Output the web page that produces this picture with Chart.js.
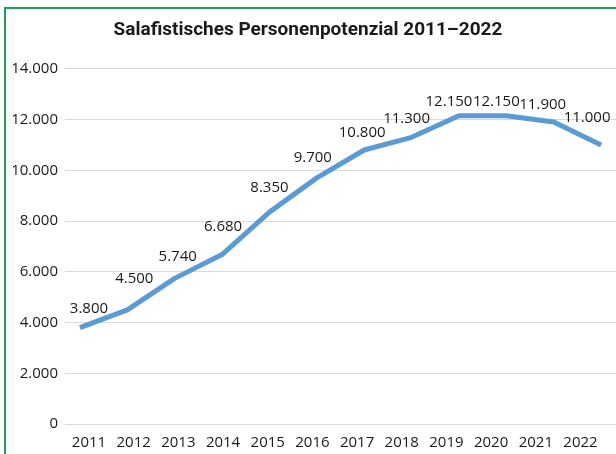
<!DOCTYPE html>
<html>
<head>
<meta charset="utf-8">
<script src="https://cdn.jsdelivr.net/npm/chart.js@4.4.1/dist/chart.umd.min.js"></script>
<style>
    body { margin: 0; background: #fff; }
    #wrap { position: relative; width: 616px; height: 454px; }
    #frame {
        position: absolute; left: 4px; top: 7px; right: -4px; bottom: -4px;
        border-left: 2px solid #17a159; border-top: 2px solid #17a159;
        pointer-events: none;
    }
</style>
</head>
<body>
<div id="wrap">
    <canvas id="chart" width="616" height="454"></canvas>
    <div id="frame"></div>
</div>
<script>
// Salafistisches Personenpotenzial 2011-2022

const YEARS = ['2011', '2012', '2013', '2014', '2015', '2016', '2017', '2018', '2019', '2020', '2021', '2022'];
const PERSONS = [3800, 4500, 5740, 6680, 8350, 9700, 10800, 11300, 12150, 12150, 11900, 11000];
const Y_TICKS = [0, 2000, 4000, 6000, 8000, 10000, 12000, 14000];

// label nudges (dx, dy) relative to each point, as placed in the original
const LABEL_DX = [9, 7, 3, 1, 0, -4, -2, -5, -10, -10, -11, -14];
const LABEL_DY = [-19, -31, -22, -28, -24, -20, -17, -19, -14, -14, -17, -27];

const FONT = '"Open Sans", sans-serif';

function formatDe(v) {
    return String(v).replace(/\B(?=(\d{3})+(?!\d))/g, '.');
}

const valueLabels = {
    id: 'valueLabels',
    afterDatasetsDraw(chart) {
        const ctx = chart.ctx;
        const meta = chart.getDatasetMeta(0);
        ctx.save();
        ctx.font = '15px ' + FONT;
        ctx.fillStyle = '#1a1a1a';
        ctx.textAlign = 'center';
        ctx.textBaseline = 'middle';
        meta.data.forEach((pt, i) => {
            ctx.fillText(formatDe(PERSONS[i]), pt.x + LABEL_DX[i], pt.y + LABEL_DY[i]);
        });
        ctx.restore();
    }
};

const first = Number(YEARS[0]);
const last = Number(YEARS[YEARS.length - 1]);

new Chart(document.getElementById('chart'), {
    type: 'line',
    data: {
        datasets: [{
            data: YEARS.map((y, i) => ({ x: Number(y), y: PERSONS[i] })),
            borderColor: '#5b9bd5',
            borderWidth: 5,
            borderJoinStyle: 'round',
            borderCapStyle: 'butt',
            pointRadius: 0,
            tension: 0,
            fill: false,
            clip: false
        }]
    },
    options: {
        responsive: false,
        animation: false,
        layout: { padding: { left: 0, right: 0, top: 0, bottom: 0 } },
        plugins: {
            legend: { display: false },
            tooltip: { enabled: false },
            title: {
                display: true,
                text: 'Salafistisches Personenpotenzial 2011–2022',
                color: '#1a1a1a',
                font: { family: 'Roboto, sans-serif', size: 19, weight: 'bold' },
                padding: { top: 19, bottom: 27 }
            }
        },
        scales: {
            // axis the line is plotted on
            x: {
                type: 'linear',
                display: false,
                min: first - 0.315,
                max: last + 0.315
            },
            // axis carrying the year labels (spaced slightly tighter, as in the original)
            xLabels: {
                type: 'linear',
                position: 'bottom',
                min: first - 0.537,
                max: last + 0.795,
                afterBuildTicks(axis) { axis.ticks = YEARS.map(y => ({ value: Number(y) })); },
                afterFit(axis) { axis.height = 30; },
                grid: { display: false },
                border: { display: false },
                ticks: {
                    color: '#1a1a1a',
                    font: { family: FONT, size: 15 },
                    padding: 2,
                    maxRotation: 0,
                    autoSkip: false,
                    callback: v => String(v)
                }
            },
            y: {
                min: Y_TICKS[0],
                max: Y_TICKS[Y_TICKS.length - 1],
                afterBuildTicks(axis) { axis.ticks = Y_TICKS.map(v => ({ value: v })); },
                afterFit(axis) { axis.width = 65; },
                grid: { color: '#d9d9d9', lineWidth: 1, drawTicks: false },
                border: { display: false },
                ticks: {
                    color: '#1a1a1a',
                    font: { family: FONT, size: 15 },
                    padding: 7,
                    callback: v => formatDe(v)
                }
            }
        }
    },
    plugins: [valueLabels]
});
</script>
</body>
</html>
